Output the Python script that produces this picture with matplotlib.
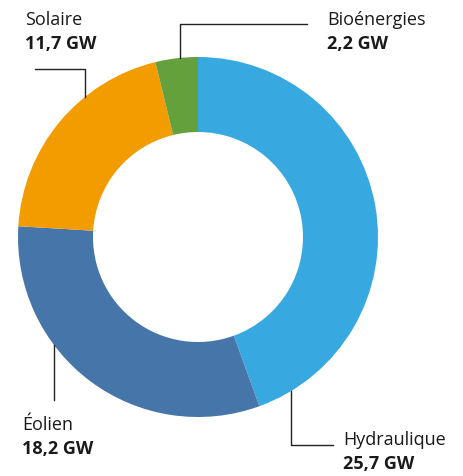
import numpy as np
import matplotlib.pyplot as plt

plt.rcParams['font.family'] = ['Open Sans', 'DejaVu Sans']

labels = ['Hydraulique', 'Éolien', 'Solaire', 'Bioénergies']
values = [25.7, 18.2, 11.7, 2.2]
values_txt = ['25,7 GW', '18,2 GW', '11,7 GW', '2,2 GW']
colors = ['#38a9e0', '#4675a9', '#f39c00', '#64a03b']

W, H = 463, 477
cx, cy, R = 198, 477 - 238, 180

fig = plt.figure(figsize=(W / 100, H / 100), dpi=100)
ax = fig.add_axes([0, 0, 1, 1])
ax.set_xlim(0, W)
ax.set_ylim(0, H)
ax.axis('off')

ax.pie(values, colors=colors, startangle=90, counterclock=False,
       center=(cx, cy), radius=R, wedgeprops=dict(width=75, linewidth=0),
       frame=True)
ax.set_xlim(0, W)
ax.set_ylim(0, H)
ax.axis('off')

# leader lines: angle on rim, elbow y, end x, text pos (pixel layout)
leaders = {
    'Hydraulique': (-58.9, 446, 333, (343, 440), 'left'),
    'Éolien': (-143, 401, None, (22, 425), 'left'),
    'Solaire': (128.9, 70, 35, (25, 20), 'left'),
    'Bioénergies': (95.7, 25, 307, (327, 20), 'left'),
}

for lab, vtxt in zip(labels, values_txt):
    ang, ey, ex, (tx, ty), ha = leaders[lab]
    a = np.deg2rad(ang)
    px, py = cx + R * np.cos(a), cy + R * np.sin(a)
    xs = [px, px]
    ys = [py, H - ey]
    if ex is not None:
        xs.append(ex)
        ys.append(H - ey)
    ax.plot(xs, ys, color='#222222', lw=1)
    ax.text(tx, H - ty, lab, fontsize=13, color='#1a1a1a', va='center', ha=ha)
    ax.text(tx, H - ty - 24, vtxt, fontsize=13, fontweight='bold',
            color='#1a1a1a', va='center', ha=ha)

fig.savefig('out.png', dpi=100)
